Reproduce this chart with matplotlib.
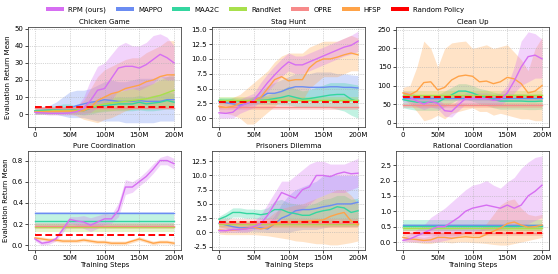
import numpy as np
import matplotlib
matplotlib.use("Agg")
import matplotlib.pyplot as plt
from matplotlib.patches import Patch

steps = [0, 10, 20, 30, 40, 50, 60, 70, 80, 90, 100, 110, 120, 130, 140, 150, 160, 170, 180, 190, 200]
xticks = [0, 50, 100, 150, 200]
xticklabels = ["0", "50M", "100M", "150M", "200M"]

methods = ["RPM (ours)", "MAPPO", "MAA2C", "RandNet", "OPRE", "HFSP", "Random Policy"]
colors = ["#d66ef2", "#6b8cf2", "#34d6a0", "#a8e04c", "#f78a8a", "#ffa348", "#ff0000"]

titles = ["Chicken Game", "Stag Hunt", "Clean Up", "Pure Coordination", "Prisoners Dilemma", "Rational Coordianation"]

# ---- Chicken Game ----
cg_rpm = [1.0, 0.8, 0.5, 0.5, 0.5, 0.7, 1.5, 3.5, 8, 14, 15, 21, 27, 28, 28, 27, 29, 32, 35, 33, 30]
cg_rpm_lo = [0, 0, -0.5, -0.5, -0.5, -0.5, 0, 0, 1, 4, 4, 8, 14, 14, 15, 14, 16, 18, 22, 20, 20]
cg_rpm_hi = [2, 1.8, 1.5, 1.5, 1.5, 2, 4, 10, 20, 28, 30, 35, 40, 42, 40, 40, 42, 46, 47, 45, 40]
cg_mappo = [2, 2.2, 2.5, 3, 3.2, 3.5, 5, 6, 7, 7.5, 8.5, 8, 7.5, 7.5, 7.5, 8, 7.5, 7.5, 7.5, 8.5, 8.5]
cg_mappo_lo = [0, 0, 0, 0, -1, -2, -2, -2, -3, -4, -4, -4, -4, -5, -5, -5, -5, -5, -4, -4, -4]
cg_mappo_hi = [4, 4.5, 5, 7, 10, 13, 14, 14, 15, 17, 19, 20, 19, 19, 20, 21, 21, 21, 22, 22, 22]
cg_maa2c = [2, 2.2, 2.5, 3, 3.2, 3, 2.5, 2, 3.5, 4.5, 5, 5.5, 6, 6, 6, 7, 6, 6.5, 7, 8, 7]
cg_maa2c_lo = [0.5, 0.5, 0.5, 1, 1, 0.5, 0, -0.5, 0, 1, 1.5, 2, 2, 2, 2, 2.5, 2, 2, 2.5, 3, 3]
cg_maa2c_hi = [3.5, 4, 4.5, 5, 6, 6, 5, 5, 7, 8, 9, 9.5, 10, 10, 10, 11, 10, 11, 11.5, 13, 12]
cg_randnet = [1.5, 1.6, 1.8, 2, 2, 2, 2.3, 3, 4, 5, 6, 6.5, 7, 7.5, 8, 8.5, 9, 10, 11, 12.5, 14]
cg_randnet_lo = [0.5, 0.5, 0.5, 0.5, 0.5, 0.5, 0.5, 1, 1, 1.5, 2, 2, 2.5, 2.5, 3, 3, 3, 3.5, 4, 4, 5]
cg_randnet_hi = [2.5, 2.7, 3, 3.5, 3.5, 3.5, 4, 5.5, 7, 9, 11, 12, 13, 14, 15, 16, 17, 18, 20, 22, 24]
cg_opre = [3.7, 3.0, 4.4]
cg_hfsp = [1.5, 1.5, 1.5, 1.6, 1.7, 1.8, 1.8, 2, 4, 8, 10, 12, 13, 15, 16, 17, 19, 20, 22, 23, 23]
cg_hfsp_lo = [0, 0, 0, 0, 0, 0, -1, -3, -4, -5, -3, -2, 0, 2, 3, 5, 5, 4, 4, 4, 4]
cg_hfsp_hi = [3, 3, 3, 3, 3, 4, 5, 8, 15, 22, 26, 28, 30, 32, 33, 33, 36, 38, 40, 43, 43]
cg_random = 4.0

# ---- Stag Hunt ----
sh_rpm = [0.9, 0.8, 1.0, 2.0, 2.5, 3.0, 4.5, 6.0, 7.3, 8.5, 9.5, 9.0, 9.0, 9.5, 10.0, 10.5, 11.0, 11.5, 12.0, 12.3, 13.0]
sh_rpm_lo = [0, 0, 0, 0.8, 1.3, 1.8, 3, 4.5, 5.8, 7, 8, 7.5, 7.5, 8, 8.5, 9, 9.5, 10, 10.5, 10.8, 11.3]
sh_rpm_hi = [1.8, 1.7, 2, 3.2, 3.7, 4.2, 6, 7.5, 8.8, 10, 11, 10.5, 10.5, 11, 11.5, 12, 12.5, 13, 13.5, 14, 14.7]
sh_mappo = [2.8, 2.6, 2.4, 2.2, 2.5, 3.0, 3.5, 4.2, 4.2, 4.5, 5.0, 5.3, 5.3, 5.2, 5.2, 5.2, 5.3, 5.3, 5.2, 5.2, 5.1]
sh_mappo_lo = [2.3, 2.1, 1.9, 1.7, 2, 2.3, 2.5, 2.8, 2.8, 3, 3, 3, 3, 3, 3, 3, 3, 3, 3, 3, 3]
sh_mappo_hi = [3.3, 3.1, 2.9, 2.7, 3, 3.7, 4.5, 5.5, 6, 6.5, 7, 7.5, 7.5, 7.5, 7.8, 7.8, 7.8, 7.5, 7.5, 7.3, 7.2]
sh_maa2c = [3.0, 3.0, 3.0, 2.9, 2.9, 3.0, 3.0, 3.1, 3.3, 3.5, 3.8, 3.5, 3.2, 3.3, 3.5, 3.7, 3.9, 4.0, 4.0, 3.2, 2.8]
sh_maa2c_lo = [2.5, 2.5, 2.5, 2.4, 2.4, 2.4, 2.3, 2.3, 2.3, 2.2, 2.2, 2, 1.8, 1.8, 1.8, 1.8, 1.8, 1.5, 1.2, 0.5, 0]
sh_maa2c_hi = [3.5, 3.5, 3.5, 3.4, 3.4, 3.6, 3.7, 3.9, 4.3, 4.8, 5.4, 5, 4.6, 4.8, 5.2, 5.6, 6, 6, 6, 5.8, 5.6]
sh_randnet = [3.1, 2.7, 3.5]
sh_opre = [1.8, 1.4, 2.6]
sh_hfsp = [2.0, 1.8, 2.0, 2.5, 2.7, 3.0, 3.5, 5.0, 6.5, 7.0, 6.3, 6.5, 6.5, 8.5, 9.5, 10.0, 10.0, 10.3, 10.7, 11.0, 10.7]
sh_hfsp_lo = [1, 0.8, 0.5, 0, -1, -1, 0, 1, 2, 3, 3, 3, 3, 5, 6, 7, 7, 7, 7.5, 8, 8]
sh_hfsp_hi = [3, 3, 3.5, 4, 5, 6, 7, 8, 9.5, 10.5, 11, 11, 11, 12, 12.5, 13, 13, 13, 13.5, 14, 13.5]
sh_random = 2.8

# ---- Clean Up ----
cu_rpm = [70, 68, 58, 50, 57, 52, 32, 30, 48, 65, 65, 65, 65, 60, 62, 80, 112, 150, 178, 182, 172]
cu_rpm_lo = [55, 53, 43, 35, 42, 37, 17, 15, 33, 50, 50, 50, 50, 45, 47, 60, 80, 100, 110, 120, 120]
cu_rpm_hi = [85, 83, 73, 65, 72, 67, 47, 45, 63, 80, 80, 80, 80, 75, 80, 100, 150, 220, 245, 240, 225]
cu_mappo = [65, 58, 72]
cu_maa2c = [62, 58, 55, 55, 55, 55, 65, 75, 85, 85, 80, 72, 68, 62, 58, 58, 58, 58, 57, 57, 58]
cu_maa2c_lo = [40, 36, 33, 33, 33, 33, 43, 53, 63, 63, 58, 50, 46, 40, 36, 36, 36, 36, 35, 35, 36]
cu_maa2c_hi = [82, 78, 75, 75, 75, 75, 85, 95, 105, 105, 100, 92, 88, 82, 78, 78, 78, 78, 77, 77, 78]
cu_randnet = [75, 65, 85]
cu_opre = [47, 40, 54]
cu_hfsp = [80, 75, 85, 108, 110, 88, 95, 115, 125, 128, 125, 110, 112, 105, 110, 122, 118, 105, 80, 85, 100]
cu_hfsp_lo = [65, 50, 30, 5, 10, 20, 10, 25, 30, 35, 40, 30, 30, 20, 25, 20, 15, 10, 10, 5, 5]
cu_hfsp_hi = [95, 100, 150, 220, 200, 150, 200, 215, 218, 220, 200, 205, 210, 200, 205, 210, 190, 170, 140, 200, 230]
cu_random = 70

# ---- Pure Coordination ----
pc_rpm = [0.06, 0.02, 0.03, 0.06, 0.15, 0.245, 0.23, 0.22, 0.19, 0.22, 0.25, 0.25, 0.33, 0.55, 0.55, 0.60, 0.65, 0.72, 0.80, 0.80, 0.77]
pc_rpm_lo = [0.04, 0.0, 0.01, 0.04, 0.12, 0.21, 0.19, 0.16, 0.13, 0.16, 0.2, 0.21, 0.27, 0.48, 0.5, 0.56, 0.61, 0.68, 0.76, 0.76, 0.72]
pc_rpm_hi = [0.08, 0.04, 0.05, 0.08, 0.18, 0.27, 0.27, 0.28, 0.26, 0.28, 0.3, 0.29, 0.4, 0.62, 0.6, 0.64, 0.7, 0.77, 0.83, 0.85, 0.82]
pc_mappo = [0.305, 0.30, 0.31]
pc_maa2c = [0.23, 0.16, 0.30]
pc_randnet = [0.17, 0.13, 0.20]
pc_opre = [0.18, 0.15, 0.21]
pc_hfsp = [0.07, 0.06, 0.05, 0.05, 0.04, 0.04, 0.04, 0.05, 0.04, 0.03, 0.03, 0.02, 0.02, 0.02, 0.04, 0.06, 0.04, 0.02, 0.03, 0.03, 0.02]
pc_hfsp_lo = [0.055, 0.045, 0.035, 0.035, 0.025, 0.025, 0.025, 0.035, 0.025, 0.015, 0.015, 0.005, 0.005, 0.005, 0.025, 0.045, 0.025, 0.005, 0.015, 0.015, 0.005]
pc_hfsp_hi = [0.09, 0.08, 0.07, 0.07, 0.06, 0.06, 0.06, 0.07, 0.06, 0.05, 0.05, 0.04, 0.04, 0.04, 0.06, 0.08, 0.06, 0.04, 0.05, 0.05, 0.04]
pc_random = 0.1

# ---- Prisoners Dilemma ----
pd_rpm = [0.3, 0.3, 0.5, 0.5, 0.6, 1.0, 1.5, 3.0, 5.0, 7.0, 6.5, 6.0, 7.5, 8.0, 10.0, 10.0, 9.8, 10.3, 10.6, 10.3, 10.4]
pd_rpm_lo = [0, 0, 0, 0, 0, 0.5, 0.5, 1, 2, 4, 4, 3, 4, 5, 6, 6.5, 7, 7, 7, 7.5, 8]
pd_rpm_hi = [0.8, 0.8, 1, 1, 1.2, 2, 3, 5, 7, 9, 9, 10, 11, 12, 12.5, 12.5, 12, 12, 12, 12.5, 13]
pd_mappo = [1.6, 1.3, 1.0, 0.8, 0.8, 0.8, 0.8, 0.6, 1.5, 2.5, 3.0, 3.8, 4.0, 4.0, 4.2, 4.5, 4.7, 5.0, 5.0, 5.0, 5.3]
pd_mappo_lo = [1.0, 0.7, 0.4, 0.2, 0.2, 0.2, 0.1, 0, 0, 0, 0, 0.3, 0.5, 0.5, 0.5, 0.8, 1, 1, 1, 1, 1]
pd_mappo_hi = [2.2, 1.9, 1.6, 1.4, 1.4, 1.4, 1.5, 1.5, 3, 5, 6.5, 7.5, 8, 8.5, 9, 10, 10, 10, 10, 10, 10]
pd_maa2c = [2.3, 2.8, 3.5, 3.5, 3.3, 3.3, 3.1, 3.3, 4.0, 4.0, 3.5, 3.3, 3.0, 3.0, 3.5, 3.8, 4.0, 4.5, 4.3, 3.5, 3.8]
pd_maa2c_lo = [1.8, 2, 2.7, 2.7, 2.5, 2.5, 2.3, 2.3, 2.5, 2.3, 2, 1.8, 1.5, 1.5, 1.8, 2, 2, 2.3, 2, 1.5, 1.5]
pd_maa2c_hi = [2.8, 3.5, 4.3, 4.3, 4.1, 4.1, 4, 4.3, 5.5, 5.8, 5.2, 5, 4.8, 4.8, 5.2, 5.8, 6, 6.5, 6.5, 5.8, 6]
pd_randnet = [1.5, 1.0, 2.0]
pd_opre = [1.6, 0.8, 2.4]
pd_hfsp = [0.4, 0.3, 0.4, 0.5, 0.7, 0.9, 0.6, 0.8, 1.5, 1.8, 1.8, 1.9, 1.9, 2.0, 2.1, 2.2, 2.8, 3.2, 3.5, 2.0, 1.3]
pd_hfsp_lo = [-0.3, -0.4, -0.4, -0.4, -0.4, -0.4, -0.5, -0.6, -0.8, -1, -1.2, -1.5, -1.6, -1.8, -2, -2, -2.2, -2.2, -2, -1.8, -1.5]
pd_hfsp_hi = [1.2, 1.2, 1.3, 1.5, 1.8, 2, 2, 2.5, 3.5, 4.2, 4.5, 4.8, 5, 5.5, 6, 6.5, 7, 7.5, 7.5, 6.5, 5]
pd_random = 1.9

# ---- Rational Coordination ----
rc_rpm = [0.05, 0.1, 0.2, 0.3, 0.4, 0.5, 0.5, 0.65, 0.8, 1.0, 1.1, 1.15, 1.2, 1.15, 1.1, 1.2, 1.1, 1.2, 1.5, 1.65, 1.85]
rc_rpm_lo = [0, 0, 0, 0, 0, 0, 0.05, 0.1, 0.2, 0.3, 0.35, 0.35, 0.4, 0.4, 0.4, 0.45, 0.45, 0.5, 0.6, 0.7, 0.8]
rc_rpm_hi = [0.15, 0.25, 0.4, 0.55, 0.8, 0.95, 1.1, 1.3, 1.5, 1.7, 1.85, 1.9, 2.0, 1.85, 1.75, 1.95, 2.1, 2.4, 2.6, 2.75, 2.8]
rc_mappo = [0.55, 0.5, 0.6]
rc_maa2c = [0.52, 0.35, 0.72]
rc_randnet = [0.45, 0.35, 0.55]
rc_opre = [0.3, 0.2, 0.4]
rc_hfsp = [0.15, 0.1, 0.08, 0.05, 0.07, 0.15, 0.15, 0.12, 0.15, 0.17, 0.15, 0.15, 0.25, 0.35, 0.45, 0.6, 0.65, 0.55, 0.48, 0.5, 0.55]
rc_hfsp_lo = [0.05, 0, -0.02, -0.05, -0.05, 0, 0, -0.03, 0, 0, -0.02, -0.03, -0.05, -0.08, -0.1, -0.1, -0.05, 0, 0.05, 0.1, 0.15]
rc_hfsp_hi = [0.25, 0.2, 0.18, 0.15, 0.2, 0.3, 0.3, 0.27, 0.3, 0.35, 0.35, 0.4, 0.6, 0.9, 1.2, 1.35, 1.4, 1.1, 0.9, 0.85, 0.9]
rc_random = 0.28

panels = [
    dict(rpm=(cg_rpm, cg_rpm_lo, cg_rpm_hi), mappo=(cg_mappo, cg_mappo_lo, cg_mappo_hi),
         maa2c=(cg_maa2c, cg_maa2c_lo, cg_maa2c_hi), randnet=(cg_randnet, cg_randnet_lo, cg_randnet_hi),
         opre=cg_opre, hfsp=(cg_hfsp, cg_hfsp_lo, cg_hfsp_hi), random=cg_random,
         yticks=[0, 10, 20, 30, 40, 50], ylim=(-7.5, 51), fmt="{:.0f}"),
    dict(rpm=(sh_rpm, sh_rpm_lo, sh_rpm_hi), mappo=(sh_mappo, sh_mappo_lo, sh_mappo_hi),
         maa2c=(sh_maa2c, sh_maa2c_lo, sh_maa2c_hi), randnet=sh_randnet,
         opre=sh_opre, hfsp=(sh_hfsp, sh_hfsp_lo, sh_hfsp_hi), random=sh_random,
         yticks=[0, 2.5, 5, 7.5, 10, 12.5, 15], ylim=(-1.5, 15.4), fmt="{:.1f}"),
    dict(rpm=(cu_rpm, cu_rpm_lo, cu_rpm_hi), mappo=cu_mappo,
         maa2c=(cu_maa2c, cu_maa2c_lo, cu_maa2c_hi), randnet=cu_randnet,
         opre=cu_opre, hfsp=(cu_hfsp, cu_hfsp_lo, cu_hfsp_hi), random=cu_random,
         yticks=[0, 50, 100, 150, 200, 250], ylim=(-12, 258), fmt="{:.0f}"),
    dict(rpm=(pc_rpm, pc_rpm_lo, pc_rpm_hi), mappo=pc_mappo,
         maa2c=pc_maa2c, randnet=pc_randnet,
         opre=pc_opre, hfsp=(pc_hfsp, pc_hfsp_lo, pc_hfsp_hi), random=pc_random,
         yticks=[0, 0.2, 0.4, 0.6, 0.8], ylim=(-0.044, 0.89), fmt="{:.1f}"),
    dict(rpm=(pd_rpm, pd_rpm_lo, pd_rpm_hi), mappo=(pd_mappo, pd_mappo_lo, pd_mappo_hi),
         maa2c=(pd_maa2c, pd_maa2c_lo, pd_maa2c_hi), randnet=pd_randnet,
         opre=pd_opre, hfsp=(pd_hfsp, pd_hfsp_lo, pd_hfsp_hi), random=pd_random,
         yticks=[-2.5, 0, 2.5, 5, 7.5, 10, 12.5], ylim=(-3.1, 14.3), fmt="{:.1f}"),
    dict(rpm=(rc_rpm, rc_rpm_lo, rc_rpm_hi), mappo=rc_mappo,
         maa2c=rc_maa2c, randnet=rc_randnet,
         opre=rc_opre, hfsp=(rc_hfsp, rc_hfsp_lo, rc_hfsp_hi), random=rc_random,
         yticks=[0, 0.5, 1.0, 1.5, 2.0, 2.5], ylim=(-0.26, 2.96), fmt="{:.1f}"),
]

fig = plt.figure(figsize=(5.58, 2.74), dpi=100)
lefts = [28 / 558, 212 / 558, 396 / 558]
W = 153 / 558
rows = [(1 - 127 / 274, 100 / 274), (1 - 250 / 274, 99 / 274)]

x = np.array(steps, dtype=float)
keys = ["rpm", "mappo", "maa2c", "randnet", "opre", "hfsp"]
FS = 5.0

def draw(ax, data, color):
    m, lo, hi = data
    if np.isscalar(m):
        xs = [x[0], x[-1]]
        ax.fill_between(xs, [lo, lo], [hi, hi], color=color, alpha=0.3, lw=0)
        ax.plot(xs, [m, m], color=color, lw=1.0)
    else:
        ax.fill_between(x, lo, hi, color=color, alpha=0.3, lw=0)
        ax.plot(x, m, color=color, lw=1.0)

for i, p in enumerate(panels):
    r, c = divmod(i, 3)
    b, h = rows[r]
    ax = fig.add_axes([lefts[c], b, W, h])
    order = ["mappo", "maa2c", "randnet", "opre", "hfsp", "rpm"]
    for k in order:
        draw(ax, p[k], colors[keys.index(k)])
    ax.plot([x[0], x[-1]], [p["random"], p["random"]], color=colors[6], lw=1.4,
            ls=(0, (3.5, 1.8)), zorder=5)
    ax.set_xlim(-10, 210)
    ax.set_ylim(*p["ylim"])
    ax.set_xticks(xticks)
    ax.set_xticklabels(xticklabels)
    ax.set_yticks(p["yticks"])
    ax.set_yticklabels([p["fmt"].format(v) for v in p["yticks"]])
    ax.tick_params(labelsize=FS, length=2, width=0.5, pad=1.5)
    ax.grid(True, ls=":", lw=0.5, color="#b0b0b0")
    for s in ax.spines.values():
        s.set_linewidth(0.6)
        s.set_color("#444444")
    ax.set_title(titles[i], fontsize=FS, pad=2.5)
    if c == 0:
        ax.set_ylabel("Evaluation Return Mean", fontsize=FS, labelpad=2)
    if r == 1:
        ax.set_xlabel("Training Steps", fontsize=FS, labelpad=1)

handles = [Patch(facecolor=col, edgecolor="none") for col in colors]
fig.legend(handles, methods, loc="center", ncol=7, frameon=False,
           fontsize=FS, bbox_to_anchor=(0.4575, 1 - 10 / 274), handlelength=2.6, handleheight=0.55,
           columnspacing=1.4, handletextpad=0.6)

fig.savefig("out.png", dpi=100)
